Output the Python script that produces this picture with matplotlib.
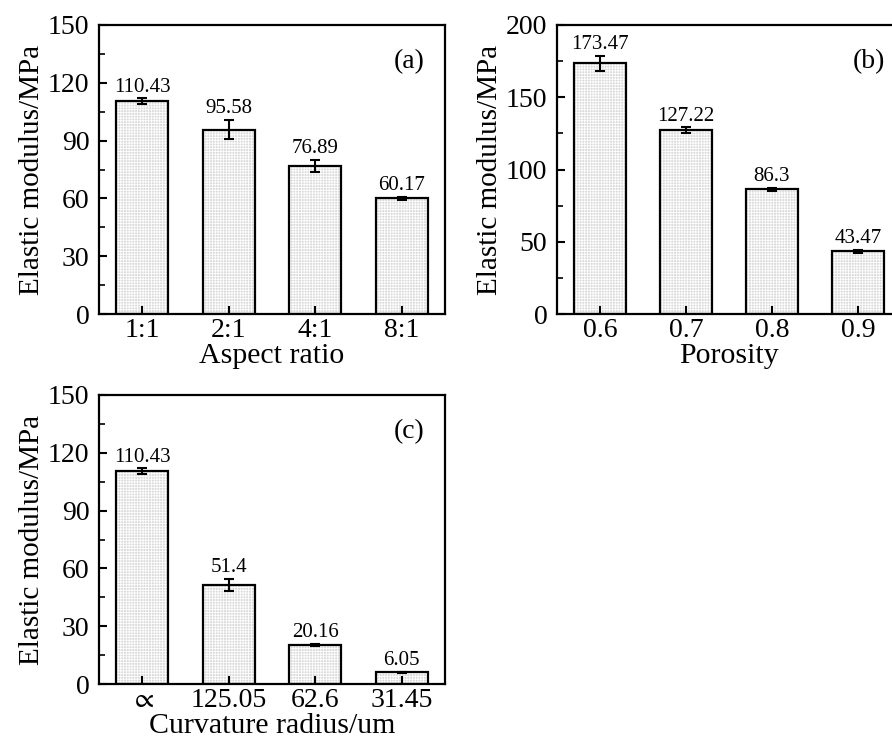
import matplotlib
matplotlib.use('Agg')
import matplotlib.pyplot as plt
from matplotlib.ticker import MultipleLocator

plt.rcParams['font.family'] = ['Liberation Serif', 'DejaVu Serif']
plt.rcParams['mathtext.fontset'] = 'stix'
plt.rcParams['hatch.linewidth'] = 0.6

# panel data
ratio_labels = ['1:1', '2:1', '4:1', '8:1']
ratio_vals = [110.43, 95.58, 76.89, 60.17]
ratio_err = [1.5, 5.0, 3.0, 0.8]

poro_labels = ['0.6', '0.7', '0.8', '0.9']
poro_vals = [173.47, 127.22, 86.3, 43.47]
poro_err = [5.0, 2.0, 1.0, 1.0]

curv_labels = [r'$\propto$', '125.05', '62.6', '31.45']
curv_vals = [110.43, 51.4, 20.16, 6.05]
curv_err = [1.5, 3.0, 0.5, 0.3]
curv_text = ['110.43', '51.4', '20.16', '6.05']

W, H = 892, 740
fig = plt.figure(figsize=(W/100, H/100), dpi=100)

def make_ax(l, t, r, b):
    return fig.add_axes([l/W, 1-b/H, (r-l)/W, (b-t)/H])

def panel(ax, labels, vals, err, txt, ymax, major, minor, xlabel, tag, tagx=0.942):
    x = range(len(vals))
    # hatched light fill, then black outline on top
    ax.bar(x, vals, width=0.6, color='#dadada', edgecolor='white',
           hatch='++++++', linewidth=0, zorder=1)
    ax.bar(x, vals, width=0.6, fill=False, edgecolor='black',
           linewidth=1.6, zorder=2)
    ax.errorbar(x, vals, yerr=err, fmt='none', ecolor='black',
                elinewidth=1.5, capsize=3.5, capthick=1.5, zorder=3)
    for i, v in enumerate(vals):
        ax.text(i, v + err[i] + ymax*0.006, txt[i], ha='center', va='bottom',
                fontsize=15)
    ax.set_xlim(-0.5, len(vals)-0.5)
    ax.set_ylim(0, ymax)
    ax.set_xticks(list(x))
    ax.set_xticklabels(labels)
    ax.yaxis.set_major_locator(MultipleLocator(major))
    ax.yaxis.set_minor_locator(MultipleLocator(minor))
    ax.tick_params(axis='both', which='major', direction='in', length=6,
                   width=1.5, labelsize=20, pad=7)
    ax.tick_params(axis='x', which='major', pad=3)
    ax.tick_params(axis='y', which='minor', direction='in', length=4, width=1.2)
    ax.tick_params(axis='x', which='minor', bottom=False)
    for s in ax.spines.values():
        s.set_linewidth(1.6)
    ax.set_ylabel('Elastic modulus/MPa', fontsize=21, labelpad=2)
    ax.set_xlabel(xlabel, fontsize=21.5, labelpad=0)
    ax.text(tagx, 0.915, tag, transform=ax.transAxes, ha='right', va='top',
            fontsize=20)
    for t in ax.get_xticklines():
        t.set_zorder(5)

ax1 = make_ax(99, 25, 445, 314)
panel(ax1, ratio_labels, ratio_vals, ratio_err, [str(v) for v in ratio_vals],
      150, 30, 15, 'Aspect ratio', '(a)')

ax2 = make_ax(557, 25, 901, 314)
panel(ax2, poro_labels, poro_vals, poro_err, [str(v) for v in poro_vals],
      200, 50, 25, 'Porosity', '(b)', tagx=0.953)

ax3 = make_ax(99, 395, 445, 684)
panel(ax3, curv_labels, curv_vals, curv_err, curv_text,
      150, 30, 15, 'Curvature radius/um', '(c)')

fig.savefig('out.png', dpi=100)
